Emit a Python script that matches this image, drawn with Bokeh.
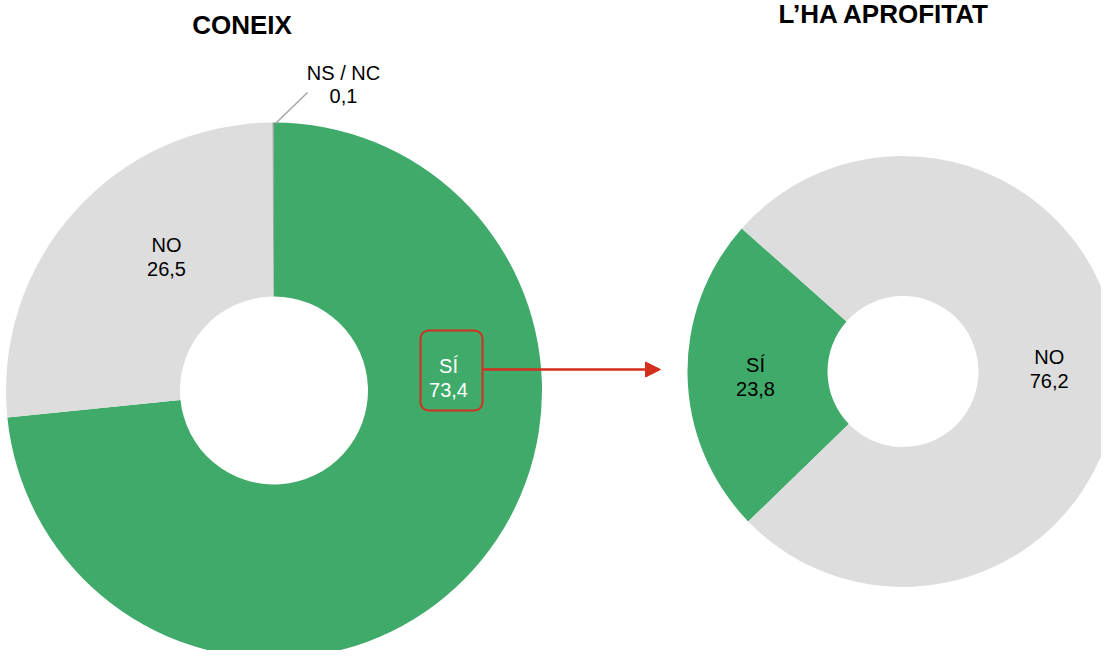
import numpy as np
from bokeh.plotting import figure
from bokeh.models import Range1d, BoxAnnotation, Arrow, NormalHead
from bokeh.core.properties import value
from bokeh.embed import file_html
from bokeh.resources import INLINE

# ---- data ----
titles = ["CONEIX", "L\u2019HA APROFITAT"]
coneix_labels = ["S\u00cd", "NO", "NS / NC"]
coneix_values = [73.4, 26.5, 0.1]
aprofitat_labels = ["S\u00cd", "NO"]
aprofitat_values = [23.8, 76.2]

# ---- style ----
GREEN = "#3FAA69"
GREY = "#DDDDDD"
DARK = "#A6A6A6"
RED = "#D42E1D"
FONT = value("Liberation Sans")

W, H = 1101, 650


def px(x):
    return x - 8


def py(y):
    return 658 - y


p = figure(width=W, height=H, x_range=Range1d(0, W), y_range=Range1d(0, H),
           output_backend="svg", toolbar_location=None, min_border=0,
           x_axis_type=None, y_axis_type=None)
p.grid.visible = False
p.outline_line_color = None
p.background_fill_color = "white"


def donut(cx, cy, r_out, r_in, vals, colors, start_deg):
    vals = np.array(vals, dtype=float)
    frac = vals / vals.sum()
    cum = np.concatenate([[0.0], np.cumsum(frac)]) * 2 * np.pi
    base = np.pi / 2 - np.radians(start_deg)
    start = list(base - cum[:-1])
    end = list(base - cum[1:])
    p.annular_wedge(x=cx, y=cy, inner_radius=r_in, outer_radius=r_out,
                    start_angle=start, end_angle=end, direction="clock",
                    fill_color=colors, line_color=None)


def fmt(v):
    return f"{v:.1f}".replace(".", ",")


def label(x, y, name, val, color="black", gap=24):
    p.text(x=[px(x), px(x)], y=[py(y), py(y + gap)], text=[name, fmt(val)],
           text_align="center", text_baseline="middle",
           text_font=FONT, text_font_size="20px", text_color=color)


# left donut: CONEIX
donut(px(281.5), py(398), 268, 94, coneix_values, [GREEN, GREY, DARK], 0)
# right donut: L'HA APROFITAT
donut(px(910.5), py(379), 215.5, 75.5, aprofitat_values, [GREEN, GREY], 225.9)

# titles
p.text(x=[px(249.5), px(891.7)], y=[py(32), py(21)], text=titles,
       text_align="center", text_baseline="middle", text_font=FONT,
       text_font_size="26px", text_font_style="bold", text_color="black")

# leader line for NS / NC
p.line([px(315), px(283)], [py(100), py(131)], line_color=DARK, line_width=1.5)

# labels left
label(456, 373, coneix_labels[0], coneix_values[0], color="white")
label(174, 252, coneix_labels[1], coneix_values[1])
label(351, 80, coneix_labels[2], coneix_values[2], gap=23)
# labels right
label(763, 372, aprofitat_labels[0], aprofitat_values[0])
label(1056.7, 364, aprofitat_labels[1], aprofitat_values[1])

# highlight box and arrow
box = BoxAnnotation(left=px(428), right=px(490), top=py(338), bottom=py(418),
                    fill_alpha=0, line_color=RED, line_alpha=1.0, line_width=2,
                    border_radius=8)
p.add_layout(box)
p.add_layout(Arrow(end=NormalHead(size=15, fill_color=RED, line_color=RED),
                   x_start=px(490), y_start=py(377), x_end=px(668), y_end=py(377),
                   line_color=RED, line_width=2.5))

open("out.html", "w").write(file_html(p, INLINE))
